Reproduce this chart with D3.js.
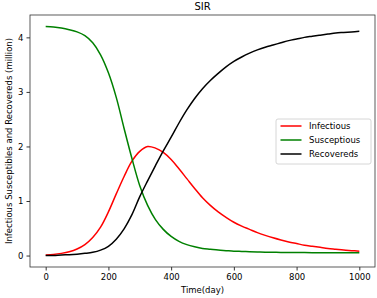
<!DOCTYPE html>
<html>
<head>
<meta charset="utf-8">
<script src="https://cdn.jsdelivr.net/npm/d3@7"></script>
<style>
  body { margin: 0; background: #fff; }
  text { font-family: "DejaVu Sans", sans-serif; fill: #000; }
</style>
</head>
<body>
<div id="chart"></div>
<script>
// values, every 25 days
const days = d3.range(0, 1001, 25);
const infectious = [0.01, 0.02, 0.04, 0.07, 0.12, 0.20, 0.33, 0.52, 0.80, 1.13, 1.45, 1.73, 1.91, 2.00, 1.97,
  1.89, 1.76, 1.59, 1.41, 1.23, 1.06, 0.92, 0.80, 0.70, 0.61, 0.54, 0.48, 0.42, 0.37, 0.325, 0.285,
  0.25, 0.22, 0.19, 0.17, 0.15, 0.13, 0.115, 0.10, 0.09, 0.08];
const susceptible = [4.20, 4.19, 4.17, 4.14, 4.10, 4.03, 3.90, 3.68, 3.35, 2.90, 2.33, 1.78, 1.28, 0.92, 0.66,
  0.48, 0.35, 0.26, 0.20, 0.16, 0.13, 0.115, 0.10, 0.09, 0.08, 0.075, 0.07, 0.065, 0.06, 0.06, 0.058,
  0.056, 0.055, 0.054, 0.053, 0.052, 0.051, 0.05, 0.05, 0.05, 0.05];
const recovered = [0.00, 0.00, 0.01, 0.015, 0.025, 0.04, 0.06, 0.10, 0.17, 0.30, 0.49, 0.75, 1.08, 1.37, 1.65,
  1.92, 2.17, 2.43, 2.67, 2.88, 3.06, 3.21, 3.34, 3.46, 3.56, 3.64, 3.71, 3.77, 3.82, 3.86, 3.90,
  3.94, 3.97, 4.00, 4.02, 4.04, 4.06, 4.08, 4.09, 4.10, 4.11];
const seriesNames = ["Infectious", "Susceptious", "Recovereds"];
const seriesColors = ["red", "green", "black"];
const xTicks = [0, 200, 400, 600, 800, 1000];
const yTicks = [0, 1, 2, 3, 4];

const width = 377;
const height = 298;
const margin = { top: 15, right: 2, bottom: 31, left: 30 };
const w = width - margin.left - margin.right;
const h = height - margin.top - margin.bottom;

const svg = d3.select("#chart").append("svg")
  .attr("width", width)
  .attr("height", height);

const g = svg.append("g")
  .attr("transform", `translate(${margin.left},${margin.top})`);

// matplotlib style 5% padding
const xScale = d3.scaleLinear().domain([-50, 1050]).range([0, w]);
const yScale = d3.scaleLinear().domain([-0.21, 4.41]).range([h, 0]);

const line = d3.line()
  .x((d) => xScale(d[0]))
  .y((d) => yScale(d[1]))
  .curve(d3.curveCatmullRom.alpha(0.5));

const allSeries = [infectious, susceptible, recovered];

g.selectAll(".line")
  .data(allSeries)
  .enter()
  .append("path")
  .attr("class", "line")
  .attr("fill", "none")
  .attr("stroke", (d, i) => seriesColors[i])
  .attr("stroke-width", 1.5)
  .attr("d", (d) => line(days.map((t, k) => [t, d[k]])));

// axes
const xAxis = g.append("g")
  .attr("transform", `translate(0,${h})`)
  .call(d3.axisBottom(xScale).tickValues(xTicks).tickFormat(d3.format("d")).tickSize(3.5).tickPadding(3));
const yAxis = g.append("g")
  .call(d3.axisLeft(yScale).tickValues(yTicks).tickFormat(d3.format("d")).tickSize(3.5).tickPadding(3));

[xAxis, yAxis].forEach((a) => {
  a.selectAll("text").style("font-size", "8.5px").style("font-family", "DejaVu Sans");
  a.selectAll("line").attr("stroke", "#000").attr("stroke-width", 0.8);
  a.select(".domain").remove();
});

// frame
g.append("rect")
  .attr("x", 0).attr("y", 0)
  .attr("width", w).attr("height", h)
  .attr("fill", "none")
  .attr("stroke", "#333")
  .attr("stroke-width", 0.8);

// title + labels
svg.append("text")
  .attr("x", margin.left + w / 2)
  .attr("y", 10)
  .attr("text-anchor", "middle")
  .style("font-size", "10px")
  .text("SIR");

svg.append("text")
  .attr("x", margin.left + w / 2)
  .attr("y", 293)
  .attr("text-anchor", "middle")
  .style("font-size", "8.5px")
  .text("Time(day)");

svg.append("text")
  .attr("transform", `translate(12,${margin.top + h / 2}) rotate(-90)`)
  .attr("text-anchor", "middle")
  .style("font-size", "8.5px")
  .text("Infectious Susceptibles and Recovereds (million)");

// legend
const legend = g.append("g").attr("transform", `translate(${276 - margin.left},${119 - margin.top})`);
legend.append("rect")
  .attr("width", 95).attr("height", 45)
  .attr("rx", 2)
  .attr("fill", "#fff")
  .attr("fill-opacity", 0.8)
  .attr("stroke", "#ccc")
  .attr("stroke-width", 0.8);

const entries = legend.selectAll(".entry")
  .data(seriesNames)
  .enter()
  .append("g")
  .attr("transform", (d, i) => `translate(0,${7 + i * 14})`);
entries.append("line")
  .attr("x1", 4.5).attr("x2", 25.5)
  .attr("stroke", (d, i) => seriesColors[i])
  .attr("stroke-width", 1.5);
entries.append("text")
  .attr("x", 33)
  .attr("y", 3)
  .style("font-size", "8.5px")
  .text((d) => d);
</script>
</body>
</html>
